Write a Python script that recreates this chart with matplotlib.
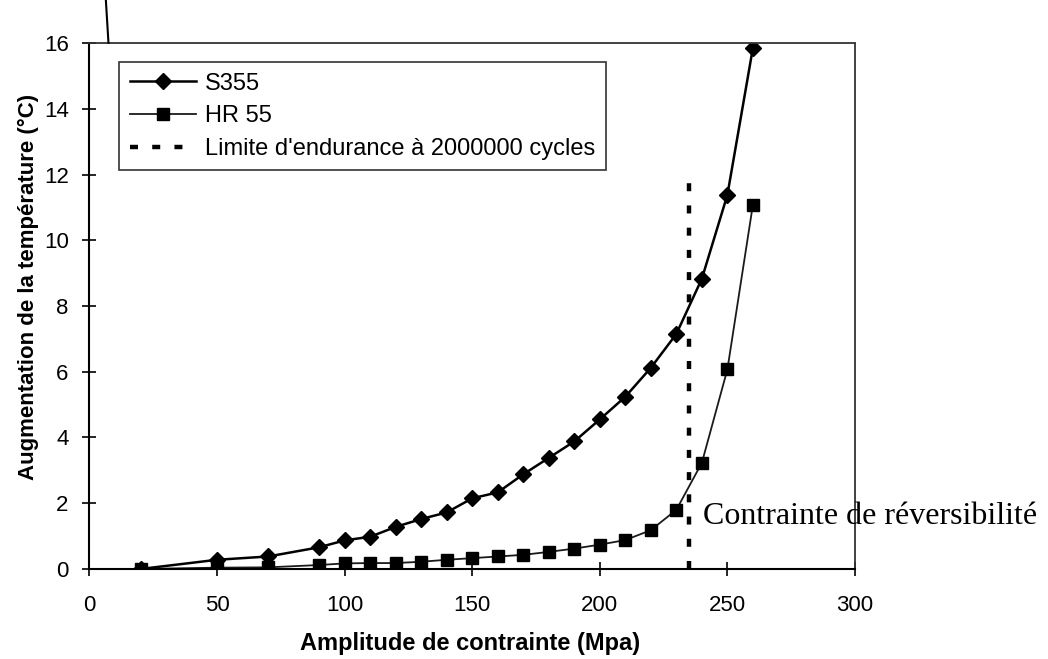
import matplotlib
matplotlib.use("Agg")
import matplotlib.pyplot as plt
from matplotlib.lines import Line2D

# ---- data ----
s355_x = [20, 50, 70, 90, 100, 110, 120, 130, 140, 150, 160, 170, 180, 190, 200, 210, 220, 230, 240, 250, 260]
s355_y = [0.0, 0.28, 0.38, 0.66, 0.87, 0.98, 1.28, 1.52, 1.72, 2.15, 2.33, 2.88, 3.38, 3.88, 4.55, 5.24, 6.12, 7.15, 8.83, 11.38, 15.85]
hr55_x = [20, 50, 70, 90, 100, 110, 120, 130, 140, 150, 160, 170, 180, 190, 200, 210, 220, 230, 240, 250, 260]
hr55_y = [0.0, 0.04, 0.05, 0.12, 0.17, 0.18, 0.18, 0.22, 0.28, 0.33, 0.38, 0.43, 0.52, 0.62, 0.74, 0.88, 1.18, 1.8, 3.23, 6.07, 11.08]
limit_x = 235
limit_top = 12
series_labels = ["S355", "HR 55", "Limite d'endurance à 2000000 cycles"]
xlabel = "Amplitude de contrainte (Mpa)"
ylabel = "Augmentation de la température (°C)"
annot = "Contrainte de réversibilité"
xticks = [0, 50, 100, 150, 200, 250, 300]
yticks = [0, 2, 4, 6, 8, 10, 12, 14, 16]

plt.rcParams['font.family'] = ['Liberation Sans', 'DejaVu Sans']

fig = plt.figure(figsize=(10.48, 6.59), dpi=100)
ax = fig.add_axes([0.0854, 0.1366, 0.7304, 0.7981])

ax.plot(s355_x, s355_y, color='black', lw=1.8, marker='D', ms=8, mfc='black', mec='black', label=series_labels[0])
ax.plot(hr55_x, hr55_y, color='#1a1a1a', lw=1.3, marker='s', ms=8, mfc='black', mec='black', label=series_labels[1])
ax.plot([limit_x, limit_x], [0, limit_top], color='black', lw=3.2, linestyle=(0, (1.8, 3.2)), label=series_labels[2])

ax.set_xlim(0, 300)
ax.set_ylim(0, 16)
ax.set_xticks(xticks)
ax.set_yticks(yticks)
ax.tick_params(axis='both', direction='inout', length=10, width=1.2, labelsize=16, color='black')
ax.tick_params(axis='x', pad=14)
ax.tick_params(axis='y', pad=10)
ax.set_xlabel(xlabel, fontsize=17, fontweight='bold')
ax.set_ylabel(ylabel, fontsize=16, fontweight='bold')
ax.xaxis.set_label_coords(0.497, -0.12)
ax.yaxis.set_label_coords(-0.066, 0.536)

for side in ['top', 'right']:
    ax.spines[side].set_linestyle((0, (1, 1)))
    ax.spines[side].set_color('#333333')
    ax.spines[side].set_linewidth(1.3)
for side in ['left', 'bottom']:
    ax.spines[side].set_color('black')
    ax.spines[side].set_linewidth(1.5)

leg = ax.legend(loc='upper left', bbox_to_anchor=(0.0385, 0.964), borderaxespad=0,
                fontsize=17, frameon=True, fancybox=False, edgecolor='black',
                handlelength=2.8, handletextpad=0.4, labelspacing=0.45, borderpad=0.45)
leg.get_frame().set_linewidth(1.2)

ax.text(240.5, 1.6, annot, fontsize=23, family=['Liberation Serif', 'DejaVu Serif'],
        va='center', ha='left', clip_on=False)

# scan mark above the left axis
fig.add_artist(Line2D([0.1010, 0.1035], [1.0, 0.935], transform=fig.transFigure, color='black', lw=1.5))

fig.savefig('out.png', dpi=100)
